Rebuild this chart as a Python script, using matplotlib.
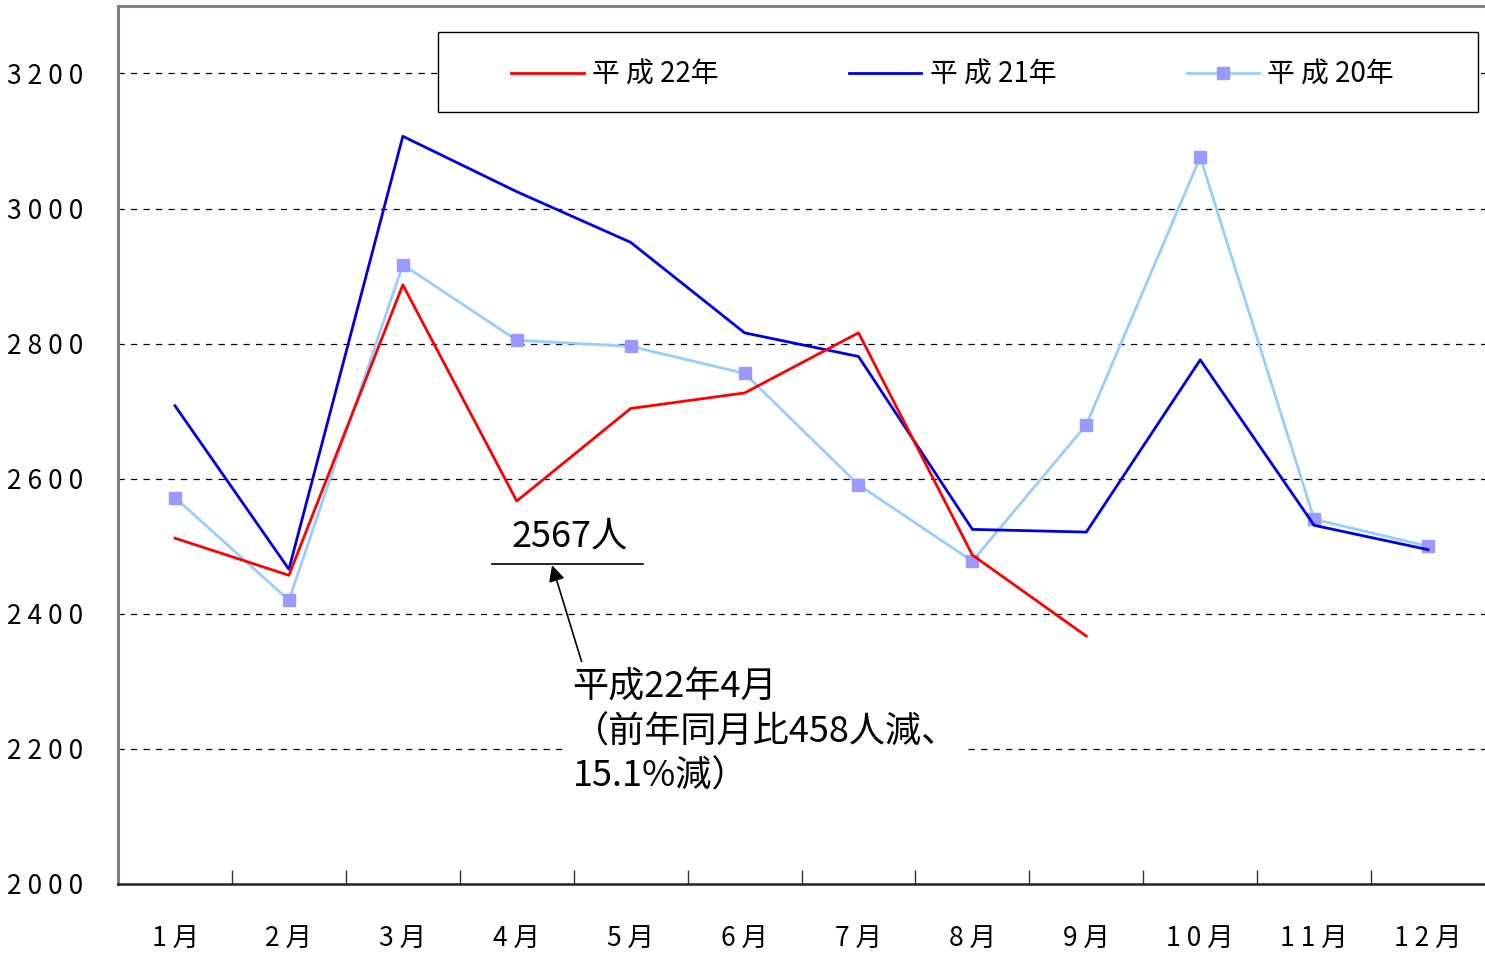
import matplotlib
matplotlib.use("Agg")
import matplotlib.pyplot as plt
from matplotlib.patches import Rectangle
from matplotlib.ticker import FixedLocator, FuncFormatter

plt.rcParams['font.family'] = ['Noto Sans CJK JP', 'DejaVu Sans']

months = ['1月', '2月', '3月', '4月', '5月', '6月', '7月', '8月', '9月', '10月', '11月', '12月']
h22 = [2512, 2457, 2887, 2567, 2704, 2727, 2816, 2487, 2367]
h21 = [2708, 2466, 3107, 3025, 2950, 2816, 2781, 2525, 2521, 2776, 2531, 2495]
h20 = [2572, 2420, 2917, 2805, 2796, 2756, 2591, 2478, 2680, 3076, 2540, 2500]
yticks = [2000, 2200, 2400, 2600, 2800, 3000, 3200]

def spaced(s):
    return " ".join(s)

fig = plt.figure(figsize=(14.85, 9.57), dpi=100)
ax = fig.add_axes([0.0795, 0.0763, 0.9205, 0.9175])

x = list(range(len(months)))
ax.plot(x[:len(h22)], h22, color='#ff0000', lw=2, zorder=5, label=spaced('平成') + ' 22年')
ax.plot(x, h21, color='#0000e6', lw=2, zorder=4, label=spaced('平成') + ' 21年')
ax.plot(x, h20, color='#99ccff', lw=2, marker='s', ms=8, mfc='#9999ff', mec='#9999ff',
        zorder=3, label=spaced('平成') + ' 20年')

ax.set_xlim(-0.5, 11.5)
ax.set_ylim(2000, 3300)

# grid lines
for v in yticks[1:]:
    ax.axhline(v, color='black', lw=0.9, ls=(0, (5, 5)), zorder=1)

ax.yaxis.set_major_locator(FixedLocator(yticks))
ax.yaxis.set_major_formatter(FuncFormatter(lambda v, p: spaced(str(int(v)))))
ax.tick_params(axis='y', length=0, pad=25, labelsize=19)

ax.set_xticks(x)
ax.set_xticklabels([spaced(m) for m in months])
ax.set_xticks([i + 0.5 for i in range(len(months) - 1)], minor=True)
ax.tick_params(axis='x', which='major', length=0, pad=30, labelsize=19)
ax.tick_params(axis='x', which='minor', direction='in', length=10, width=1, color='#333333')

for s in ['left', 'top']:
    ax.spines[s].set_color('#808080')
    ax.spines[s].set_linewidth(2.2)
ax.spines['bottom'].set_color('#222222')
ax.spines['bottom'].set_linewidth(1.8)
ax.spines['right'].set_visible(False)

# legend box
ax.add_patch(Rectangle((0.234, 0.879), 0.761, 0.091, transform=ax.transAxes,
                       facecolor='white', edgecolor='black', lw=1.0, zorder=6))
leg = ax.legend(ncol=3, loc='center', bbox_to_anchor=(0.6105, 0.922),
                fontsize=20, handlelength=2.6, handletextpad=0.3,
                columnspacing=4.7, frameon=False, borderaxespad=0)
leg.set_zorder(7)

# annotation for April 2010
ax.text(3.46, 2515, '2567人', fontsize=26, ha='center', va='center', zorder=7)
ax.plot([2.78, 4.11], [2474, 2474], color='black', lw=1.2, zorder=7)
ax.annotate('平成22年4月\n（前年同月比458人減、\n15.1%減）',
            xy=(3.31, 2472), xytext=(3.49, 2317), fontsize=26, ha='left', va='top',
            linespacing=1.3, zorder=7,
            bbox=dict(facecolor='white', edgecolor='none', pad=6),
            arrowprops=dict(arrowstyle='-|>', color='black', lw=1.2,
                            mutation_scale=24, shrinkA=0, shrinkB=0,
                            relpos=(0.03, 1.0)))

fig.savefig('out.png', dpi=100)
